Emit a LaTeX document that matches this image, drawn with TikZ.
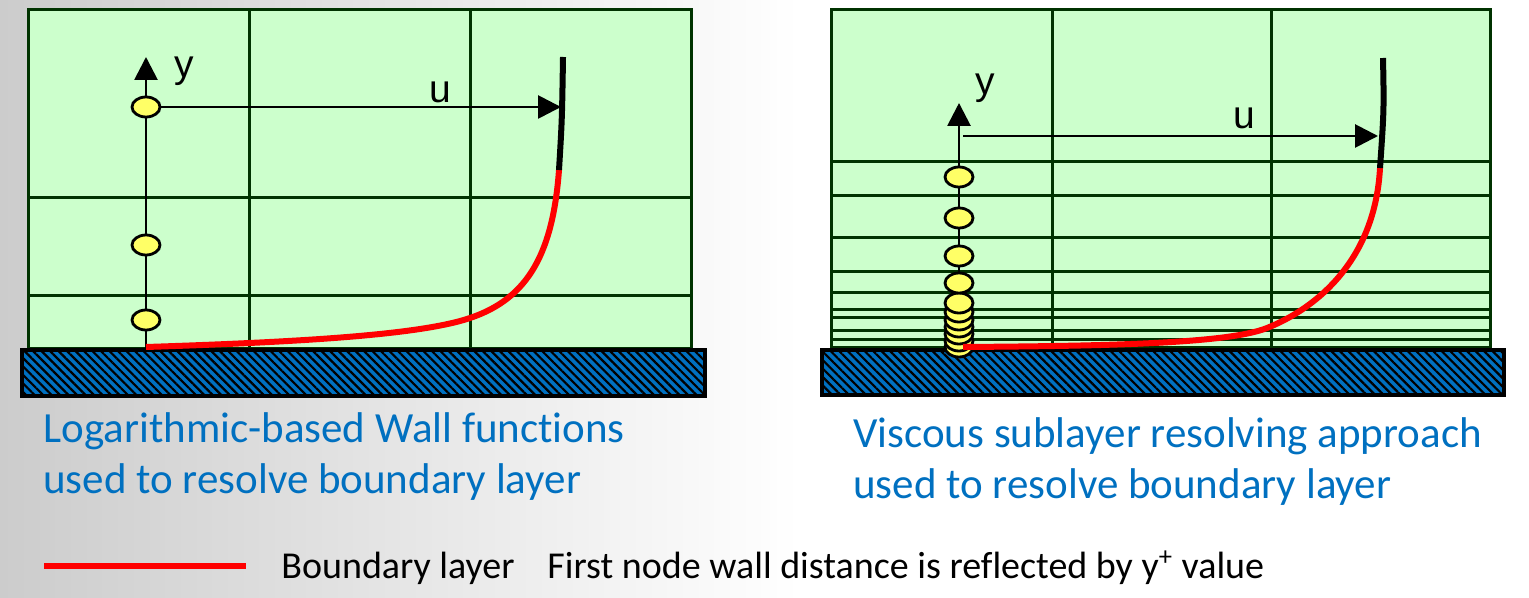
\documentclass[tikz,border=0pt]{standalone}
\usepackage{fontspec}
\setmainfont[Ligatures=NoCommon]{Carlito}
\newfontfamily\axisfont{Liberation Sans}
\usetikzlibrary{shapes.geometric,arrows.meta,patterns.meta}

\definecolor{meshgreen}{RGB}{204,255,204}
\definecolor{meshline}{RGB}{0,51,0}
\definecolor{wallblue}{RGB}{0,112,192}
\definecolor{cellyellow}{RGB}{255,255,102}
\definecolor{captionblue}{RGB}{0,112,192}

\begin{document}
\begin{tikzpicture}[x=0.5pt,y=-0.5pt,
  mesh/.style={draw=meshline,line width=1.5pt},
  wall/.style={draw=black,line width=1.7pt,preaction={fill=wallblue},
    pattern={Lines[angle=-45,distance=3pt,line width=1.1pt]},pattern color=black},
  cell/.style={ellipse,draw=black,line width=1.4pt,fill=cellyellow,
    minimum width=14pt,minimum height=10pt,inner sep=0pt},
  axis/.style={line width=1.4pt,-{Triangle[length=11.5pt,width=11.5pt]}},
  profile/.style={line width=3pt,red},
  outer/.style={line width=3pt,black},
  axislabel/.style={inner sep=0pt,font=\axisfont\fontsize{19.5}{19.5}\selectfont},
  caption/.style={inner sep=0pt,anchor=base west,text=captionblue,font=\fontsize{21.5}{25}\selectfont},
  legendtext/.style={inner sep=0pt,anchor=base west,font=\fontsize{19}{22}\selectfont}]

\useasboundingbox (0,0) rectangle (1529,598);
\shade[left color=black!20,middle color=black!15,right color=white] (0,0) rectangle (800,598);

% wall functions
\begin{scope}
\draw[mesh,fill=meshgreen] (28,10) rectangle (691,348);
\foreach \xx in {249,470} \draw[mesh] (\xx,10) -- (\xx,348);
\foreach \yy in {198,296} \draw[mesh] (28,\yy) -- (691,\yy);
\draw[wall] (22,350) rectangle (705,396);

\coordinate (lfoot) at (146,349);
\coordinate (ltip) at (146,57);
\coordinate (ledge) at (561,107);
\draw[axis] (lfoot) -- (ltip);
\foreach \yy/\nm in {320/c,245/b,107/a} \node[cell] (lcell\nm) at (146,\yy) {};
\draw[axis] (lcella.east) -- (ledge);
\node[axislabel] (ly) at (184,71) {y};
\node[axislabel] (lu) at (440,92) {u};

\coordinate (lstart) at (146,347);
\coordinate (lbend) at (559,170);
\coordinate (ltop) at (563,57);
\draw[profile] (lstart) .. controls (300,342) and (420,335) .. (470,318)
  .. controls (530,298) and (553,250) .. (lbend);
\draw[outer] (lbend) .. controls (562,120) .. (ltop);

\node[caption] (capla) at (43,442) {Logarithmic-based Wall functions};
\node[caption] (caplb) at (43,493) {used to resolve boundary layer};
\end{scope}

% viscous sublayer resolved
\begin{scope}
\draw[mesh,fill=meshgreen] (831,10) rectangle (1490,347);
\foreach \xx in {1052,1271} \draw[mesh] (\xx,10) -- (\xx,347);
\foreach \yy in {162,196,238,272,293,310,318,331,339} \draw[mesh] (831,\yy) -- (1490,\yy);
\draw[wall] (822,350) rectangle (1504,395);

\coordinate (rfoot) at (959,349);
\coordinate (rtip) at (959,103);
\coordinate (rfrom) at (963,136);
\coordinate (redge) at (1378,136);
\draw[axis] (rfoot) -- (rtip);
\draw[axis] (rfrom) -- (redge);
\foreach \yy [count=\k] in {347,341,334,327,320,312,303,283,256,218,177}
  \node[cell] (rcell\k) at (959,\yy) {};
\node[axislabel] (ry) at (985,88) {y};
\node[axislabel] (ru) at (1244,118) {u};

\coordinate (rstart) at (963,347);
\coordinate (rbend) at (1380,168);
\coordinate (rtop) at (1383,58);
\draw[profile] (rstart) .. controls (1100,346) and (1227,344) .. (1267,328)
  .. controls (1317,308) and (1375,260) .. (rbend);
\draw[outer] (rbend) .. controls (1384,110) .. (rtop);

\node[caption] (capra) at (853,447) {Viscous sublayer resolving approach};
\node[caption] (caprb) at (853,498) {used to resolve boundary layer};
\end{scope}

% legend
\coordinate (lega) at (44,566);
\coordinate (legb) at (246,566);
\draw[profile] (lega) -- (legb);
\node[legendtext] (legbl) at (281,578) {Boundary layer};
\node[legendtext] (legyp) at (547,578) {First node wall distance is reflected by y\textsuperscript{+} value};

\end{tikzpicture}
\end{document}
